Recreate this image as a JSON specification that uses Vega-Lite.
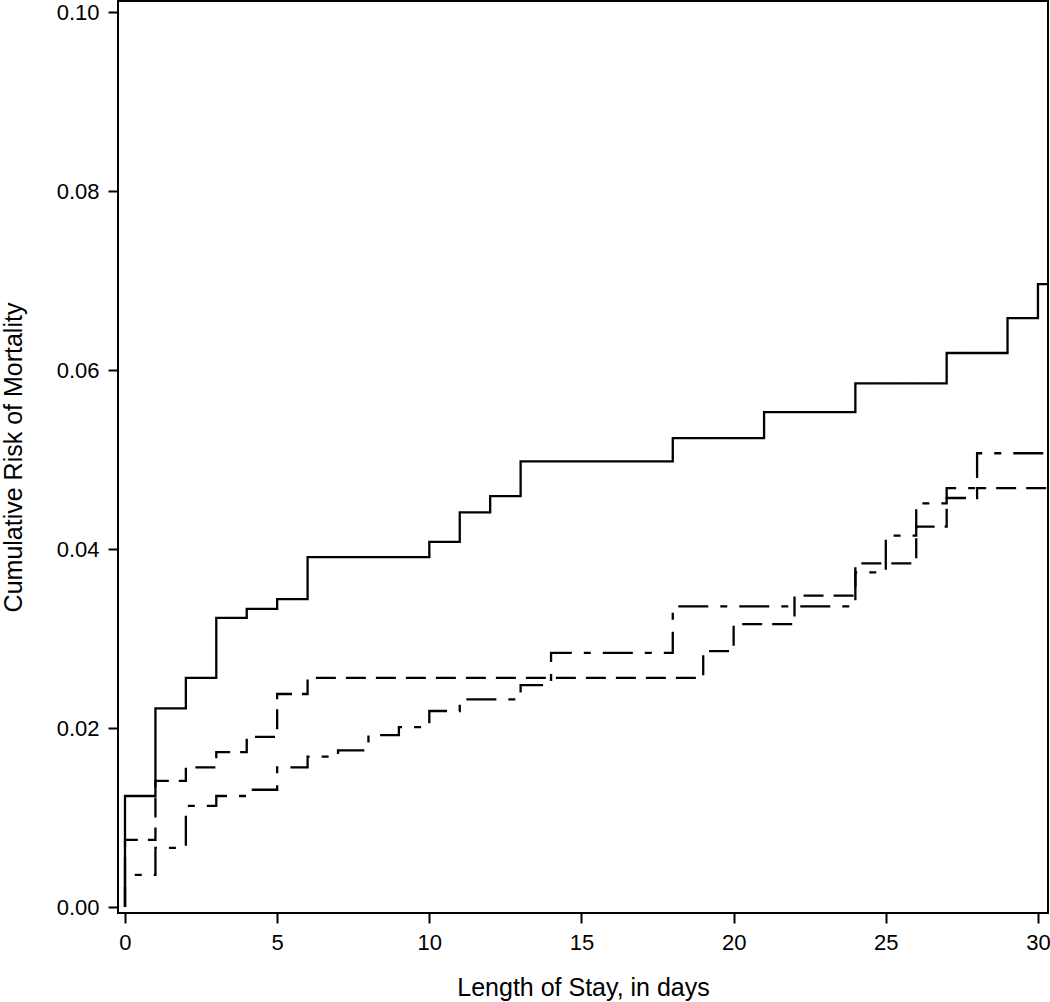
{
  "$schema": "https://vega.github.io/schema/vega-lite/v6.json",
  "width": 930,
  "height": 912,
  "autosize": {"type": "none"},
  "padding": {"left": 118, "top": 1, "right": 2, "bottom": 89},
  "background": "white",
  "config": {
    "view": {"stroke": "black", "strokeWidth": 2},
    "axis": {
      "domain": false,
      "grid": false,
      "tickColor": "black",
      "tickWidth": 2,
      "tickSize": 10,
      "labelFont": "Liberation Sans",
      "labelFontSize": 22,
      "labelColor": "black",
      "labelPadding": 9,
      "titleFont": "Liberation Sans",
      "titleFontSize": 25,
      "titleFontWeight": "normal",
      "titleColor": "black"
    }
  },
  "data": {
    "values": [
      {"group": "Solid", "day": 0, "risk": 0},
      {"group": "Solid", "day": 0, "risk": 0.0124},
      {"group": "Solid", "day": 1, "risk": 0.0222},
      {"group": "Solid", "day": 2, "risk": 0.0256},
      {"group": "Solid", "day": 3, "risk": 0.0323},
      {"group": "Solid", "day": 4, "risk": 0.0333},
      {"group": "Solid", "day": 5, "risk": 0.0344},
      {"group": "Solid", "day": 6, "risk": 0.0391},
      {"group": "Solid", "day": 10, "risk": 0.0408},
      {"group": "Solid", "day": 11, "risk": 0.0441},
      {"group": "Solid", "day": 12, "risk": 0.0459},
      {"group": "Solid", "day": 13, "risk": 0.0498},
      {"group": "Solid", "day": 18, "risk": 0.0524},
      {"group": "Solid", "day": 21, "risk": 0.0553},
      {"group": "Solid", "day": 24, "risk": 0.0585},
      {"group": "Solid", "day": 27, "risk": 0.0619},
      {"group": "Solid", "day": 29, "risk": 0.0658},
      {"group": "Solid", "day": 30, "risk": 0.0696},
      {"group": "Solid", "day": 30.4, "risk": 0.0696},
      {"group": "Dashed", "day": 0, "risk": 0},
      {"group": "Dashed", "day": 0, "risk": 0.0075},
      {"group": "Dashed", "day": 1, "risk": 0.0141},
      {"group": "Dashed", "day": 2, "risk": 0.0156},
      {"group": "Dashed", "day": 3, "risk": 0.0173},
      {"group": "Dashed", "day": 4, "risk": 0.0190},
      {"group": "Dashed", "day": 5, "risk": 0.0238},
      {"group": "Dashed", "day": 6, "risk": 0.0256},
      {"group": "Dashed", "day": 19, "risk": 0.0286},
      {"group": "Dashed", "day": 20, "risk": 0.0316},
      {"group": "Dashed", "day": 22, "risk": 0.0348},
      {"group": "Dashed", "day": 24, "risk": 0.0384},
      {"group": "Dashed", "day": 26, "risk": 0.0425},
      {"group": "Dashed", "day": 27, "risk": 0.0457},
      {"group": "Dashed", "day": 28, "risk": 0.0468},
      {"group": "Dashed", "day": 30.4, "risk": 0.0468},
      {"group": "DashDot", "day": 0, "risk": 0},
      {"group": "DashDot", "day": 0, "risk": 0.0036},
      {"group": "DashDot", "day": 1, "risk": 0.0066},
      {"group": "DashDot", "day": 2, "risk": 0.0113},
      {"group": "DashDot", "day": 3, "risk": 0.0124},
      {"group": "DashDot", "day": 4, "risk": 0.0131},
      {"group": "DashDot", "day": 5, "risk": 0.0156},
      {"group": "DashDot", "day": 6, "risk": 0.0168},
      {"group": "DashDot", "day": 7, "risk": 0.0175},
      {"group": "DashDot", "day": 8, "risk": 0.0192},
      {"group": "DashDot", "day": 9, "risk": 0.0201},
      {"group": "DashDot", "day": 10, "risk": 0.0219},
      {"group": "DashDot", "day": 11, "risk": 0.0232},
      {"group": "DashDot", "day": 13, "risk": 0.0248},
      {"group": "DashDot", "day": 14, "risk": 0.0284},
      {"group": "DashDot", "day": 18, "risk": 0.0336},
      {"group": "DashDot", "day": 24, "risk": 0.0374},
      {"group": "DashDot", "day": 25, "risk": 0.0415},
      {"group": "DashDot", "day": 26, "risk": 0.0451},
      {"group": "DashDot", "day": 27, "risk": 0.0468},
      {"group": "DashDot", "day": 28, "risk": 0.0507},
      {"group": "DashDot", "day": 30.4, "risk": 0.0507}
    ]
  },
  "mark": {"type": "line", "interpolate": "step-after", "color": "black", "strokeWidth": 2.3, "clip": true},
  "encoding": {
    "x": {
      "field": "day",
      "type": "quantitative",
      "scale": {"domain": [-0.23, 30.33], "nice": false, "zero": false},
      "axis": {"values": [0, 5, 10, 15, 20, 25, 30], "title": "Length of Stay, in days", "titlePadding": 22}
    },
    "y": {
      "field": "risk",
      "type": "quantitative",
      "scale": {"domain": [-0.00067, 0.10123], "nice": false, "zero": false},
      "axis": {"values": [0, 0.02, 0.04, 0.06, 0.08, 0.1], "format": ".2f", "title": "Cumulative Risk of Mortality", "titlePadding": 30}
    },
    "strokeDash": {
      "field": "group",
      "type": "nominal",
      "scale": {"domain": ["Solid", "Dashed", "DashDot"], "range": [[1, 0], [20, 10], [30, 12, 7, 12]]},
      "legend": null
    },
    "order": {"field": "day"}
  }
}
